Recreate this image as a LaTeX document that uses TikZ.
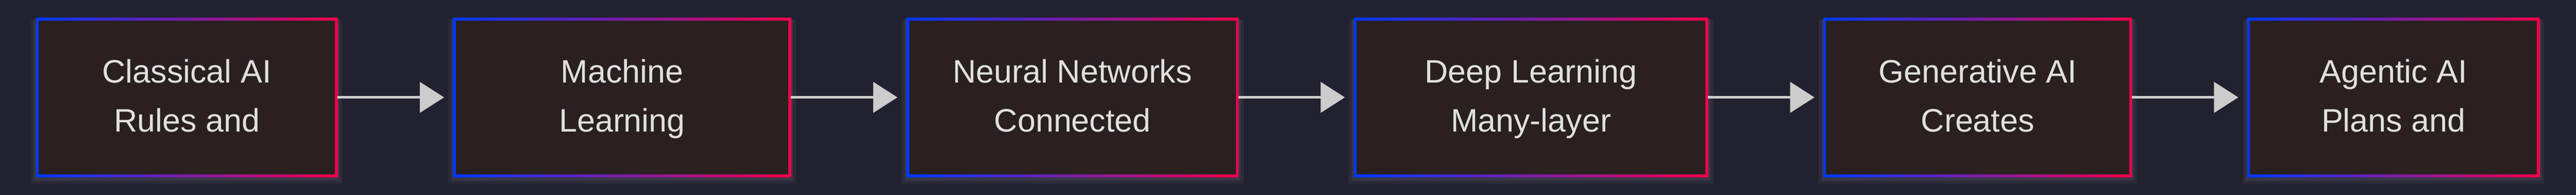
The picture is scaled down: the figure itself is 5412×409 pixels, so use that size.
\documentclass[tikz,border=0pt]{standalone}
\usepackage{fontspec}
\setmainfont{Liberation Sans}
\usetikzlibrary{positioning,arrows.meta,shadows}

\definecolor{bgdark}{HTML}{22212F}
\definecolor{boxfill}{HTML}{2A2020}
\definecolor{edgeblue}{HTML}{0038FF}
\definecolor{edgered}{HTML}{F2004A}
\definecolor{textgray}{HTML}{E0E0E0}
\definecolor{arrowgray}{HTML}{CCCCCC}
\definecolor{glow}{HTML}{4A495C}

\tikzset{
    stagebox/.style={minimum width=#1, minimum height=334pt, inner sep=0pt, outer sep=0pt,
        left color=edgeblue, right color=edgered,
        path picture={\fill[boxfill] ([shift={(5.5pt,5.5pt)}]path picture bounding box.south west)
            rectangle ([shift={(-5.5pt,-5.5pt)}]path picture bounding box.north east);},
        general shadow={shadow yshift=-9pt, shadow scale=1.03, fill=glow, opacity=.25},
        general shadow={shadow yshift=-5pt, shadow scale=1.012, fill=glow, opacity=.4},
        text=textgray, align=center, font=\fontsize{68pt}{103pt}\selectfont,
        execute at end node=\strut},
    flow/.style={draw=arrowgray, line width=5pt, -{Triangle[length=51pt,width=64pt]}, shorten >=19pt}
}

\begin{document}
\begin{tikzpicture}[x=1pt, y=1pt, node distance=242.5pt]
    \fill[bgdark] (0,0) rectangle (5412,409);
    \useasboundingbox (0,0) rectangle (5412,409);
    \node[stagebox=634pt] (classical) at (392.5,204.7) {\strut Classical AI\\Rules and};
    \node[stagebox=710pt, right=of classical] (machine) {\strut Machine\\Learning};
    \node[stagebox=697.5pt, right=of machine] (neural) {\strut Neural Networks\\Connected};
    \node[stagebox=744pt, right=of neural] (deep) {\strut Deep Learning\\Many-layer};
    \node[stagebox=648pt, right=of deep] (generative) {\strut Generative AI\\Creates};
    \node[stagebox=614pt, right=of generative] (agentic) {\strut Agentic AI\\Plans and};
    \draw[flow] (classical) -- (machine);
    \draw[flow] (machine) -- (neural);
    \draw[flow] (neural) -- (deep);
    \draw[flow] (deep) -- (generative);
    \draw[flow] (generative) -- (agentic);
\end{tikzpicture}
\end{document}
